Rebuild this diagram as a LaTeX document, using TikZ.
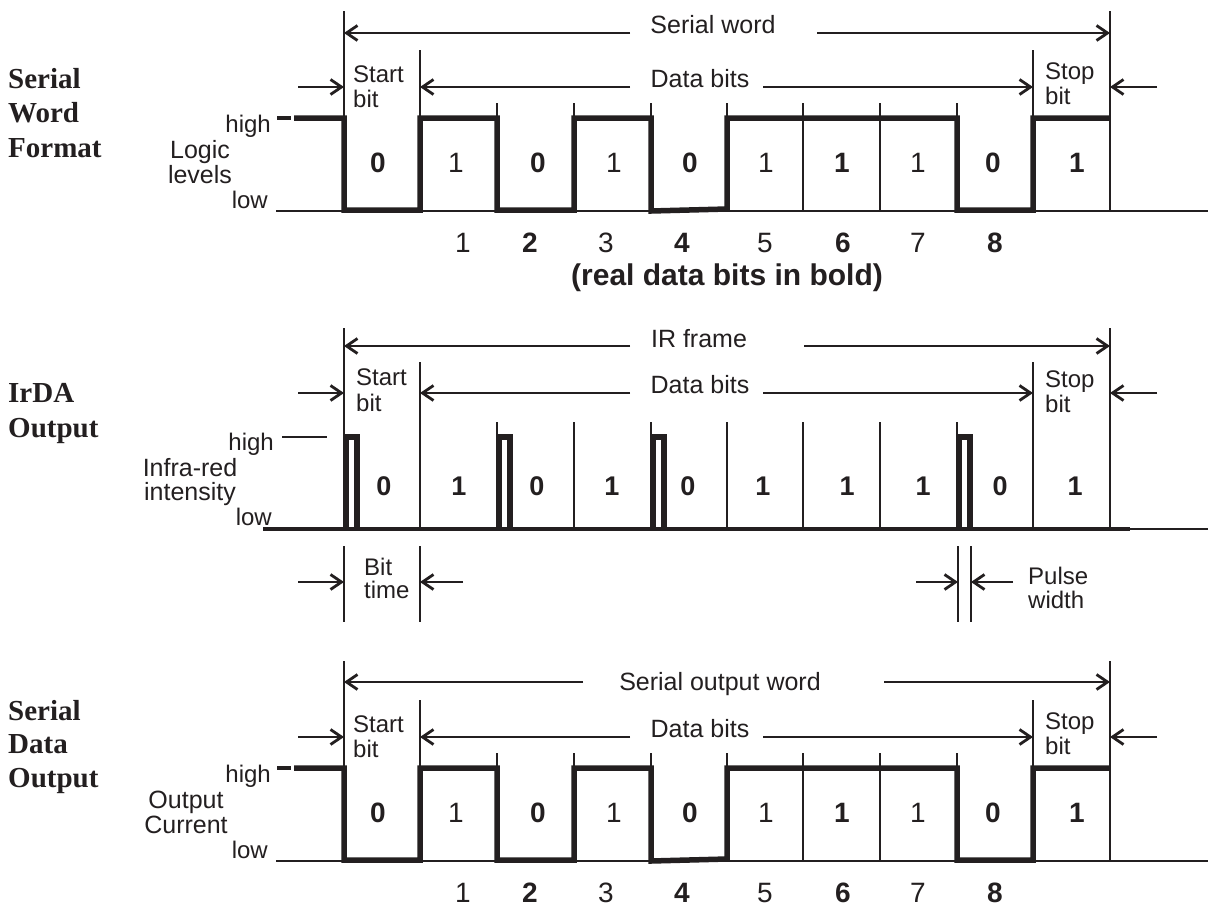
\documentclass[tikz,border=0pt]{standalone}
\usepackage{fontspec}
\setmainfont{Liberation Serif}
\newfontfamily\arialf{Liberation Sans}
\usetikzlibrary{arrows.meta}
\definecolor{ink}{RGB}{35,31,32}
\tikzset{
  lnthin/.style={line width=2.8pt,draw=ink},
  lnthick/.style={line width=5.5pt,draw=ink,line join=miter},
  dim/.style={lnthin,-{Straight Barb[length=11pt,width=15pt]}},
  lbl/.style={font=\arialf\fontsize{25}{25}\selectfont,inner sep=0pt,text=ink},
  sbl/.style={font=\arialf\fontsize{24}{25}\selectfont,inner sep=0pt,text=ink,align=left},
  axl/.style={font=\arialf\fontsize{25}{25}\selectfont,inner sep=0pt,text=ink,align=center,anchor=base},
  bitb/.style={font=\arialf\bfseries\fontsize{28}{28}\selectfont,inner sep=0pt,text=ink,anchor=base},
  bitn/.style={font=\arialf\fontsize{28}{28}\selectfont,inner sep=0pt,text=ink,anchor=base},
  ttl/.style={font=\bfseries\fontsize{29}{34.5}\selectfont,inner sep=0pt,text=ink,align=left,anchor=base west},
  wordrow/.pic={
    % frame verticals
    \draw[lnthin] (344,11) -- (344,211);
    \draw[lnthin] (1110,11) -- (1110,211);
    \draw[lnthin] (420,50) -- (420,211);
    \draw[lnthin] (1033,50) -- (1033,211);
    \foreach \x in {497,574,651,727,803,880,957} \draw[lnthin] (\x,103) -- (\x,211);
    % baseline and high tick
    \draw[lnthin] (276,211) -- (1208,211);
    \draw[line width=3.5pt,draw=ink] (277,118) -- (291,118);
    % waveform
    \draw[lnthick] (294,118) -- (344,118) -- (344,210) -- (420,210) -- (420,118)
      -- (497,118) -- (497,210) -- (574,210) -- (574,118) -- (651,118)
      -- (651,211) -- (727,209) -- (727,118) -- (957,118) -- (957,210)
      -- (1033,210) -- (1033,118) -- (1110,118);
    % data bits
    \draw[dim] (630,87) -- (420,87);
    \draw[dim] (763,87) -- (1033,87);
    \node[lbl,anchor=base] (-db) at (700,87) {Data bits};
    \draw[dim] (298,87) -- (344,87);
    \draw[dim] (1157,87) -- (1110,87);
    \node[sbl,anchor=base west] (-start) at (353,107) {Start\\bit};
    \node[sbl,anchor=base west] (-stop) at (1045,104) {Stop\\bit};
    \node[sbl,anchor=base east] (-high) at (271,132) {high};
    \node[sbl,anchor=base east] (-low) at (268,208) {low};
    % bit values
    \node[bitb] (-v0) at (378,172) {0};
    \node[bitn] (-v1) at (456,172) {1};
    \node[bitb] (-v2) at (538,172) {0};
    \node[bitn] (-v3) at (614,172) {1};
    \node[bitb] (-v4) at (690,172) {0};
    \node[bitn] (-v5) at (766,172) {1};
    \node[bitb] (-v6) at (842,172) {1};
    \node[bitn] (-v7) at (918,172) {1};
    \node[bitb] (-v8) at (993,172) {0};
    \node[bitb] (-v9) at (1077,172) {1};
    % bit numbers
    \node[bitn] (-n1) at (463,252) {1};
    \node[bitb] (-n2) at (530,252) {2};
    \node[bitn] (-n3) at (606,252) {3};
    \node[bitb] (-n4) at (682,252) {4};
    \node[bitn] (-n5) at (765,252) {5};
    \node[bitb] (-n6) at (843,252) {6};
    \node[bitn] (-n7) at (918,252) {7};
    \node[bitb] (-n8) at (995,252) {8};
  }
}
\begin{document}
\begin{tikzpicture}[x=1pt,y=-1pt]
\useasboundingbox (0,0) rectangle (1208,906);
\fill[white] (0,0) rectangle (1208,906);

% ===== Section 1: Serial Word Format =====
\pic (w1) at (0,0) {wordrow};
\draw[dim] (630,33) -- (344,33);
\draw[dim] (817,33) -- (1110,33);
\node[lbl,anchor=base] (sw) at (713,33) {Serial word};
\node[axl] (ll) at (200,183) {Logic\\levels};
\node[ttl] (t1) at (8,157) {Serial\\Word\\Format};
\node[font=\arialf\bfseries\fontsize{30}{30}\selectfont,inner sep=0pt,text=ink,anchor=base] (rdb) at (727,285) {(real data bits in bold)};

% ===== Section 2: IrDA Output =====
\draw[lnthin] (344,328) -- (344,529);
\draw[lnthin] (1110,328) -- (1110,529);
\draw[lnthin] (420,362) -- (420,529);
\draw[lnthin] (1033,362) -- (1033,529);
\foreach \x in {497,574,651,727,803,880,957} \draw[lnthin] (\x,422) -- (\x,529);
\draw[line width=4.5pt,draw=ink] (263,529) -- (1130,529);
\draw[lnthin] (1130,529) -- (1208,529);
\foreach \x in {344,497,651,957}
  \draw[lnthick] (\x+2.5,529) -- (\x+2.5,437) -- (\x+13,437) -- (\x+13,529);
\draw[line width=2.6pt,draw=ink] (282,437) -- (327,437);
\draw[dim] (630,346) -- (344,346);
\draw[dim] (804,346) -- (1110,346);
\node[lbl,anchor=base] (irf) at (699,347) {IR frame};
\draw[dim] (630,393) -- (420,393);
\draw[dim] (763,393) -- (1033,393);
\node[lbl,anchor=base] (db2) at (700,393) {Data bits};
\draw[dim] (298,393) -- (344,393);
\draw[dim] (1157,393) -- (1110,393);
\node[sbl,anchor=base west,font=\arialf\fontsize{24}{26}\selectfont] (st2) at (356,411) {Start\\bit};
\node[sbl,anchor=base west] (sp2) at (1045,412) {Stop\\bit};
\node[sbl,anchor=base east] (hi2) at (274,450) {high};
\node[sbl,anchor=base east] (lo2) at (272,525) {low};
\node[axl,font=\arialf\fontsize{25}{24}\selectfont] (iri) at (190,500) {Infra-red\\intensity};
\node[ttl] (t2) at (8,437) {IrDA\\Output};
\foreach \x/\v in {384/0,459/1,537/0,612/1,688/0,763/1,847/1,923/1,1000/0,1075/1}
  \node[bitb,font=\arialf\bfseries\fontsize{27}{27}\selectfont] at (\x,495) {\v};
% bit time
\draw[lnthin] (344,546) -- (344,622);
\draw[lnthin] (420,546) -- (420,622);
\draw[dim] (298,582) -- (344,582);
\draw[dim] (463,582) -- (420,582);
\node[sbl,anchor=base west,font=\arialf\fontsize{24}{23}\selectfont] (bt) at (364,598) {Bit\\time};
% pulse width
\draw[lnthin] (958,546) -- (958,622);
\draw[lnthin] (971,546) -- (971,622);
\draw[dim] (916,582) -- (958,582);
\draw[dim] (1013,582) -- (971,582);
\node[sbl,anchor=base west,font=\arialf\fontsize{24}{24}\selectfont] (pw) at (1028,608) {Pulse\\width};

% ===== Section 3: Serial Data Output =====
\pic (w3) at (0,650) {wordrow};
\draw[dim] (583,682) -- (344,682);
\draw[dim] (884,682) -- (1110,682);
\node[lbl,anchor=base] (sow) at (720,690) {Serial output word};
\node[axl] (oc) at (186,833) {Output\\Current};
\node[ttl,font=\bfseries\fontsize{29}{33.5}\selectfont] (t3) at (8,787) {Serial\\Data\\Output};
\end{tikzpicture}
\end{document}
